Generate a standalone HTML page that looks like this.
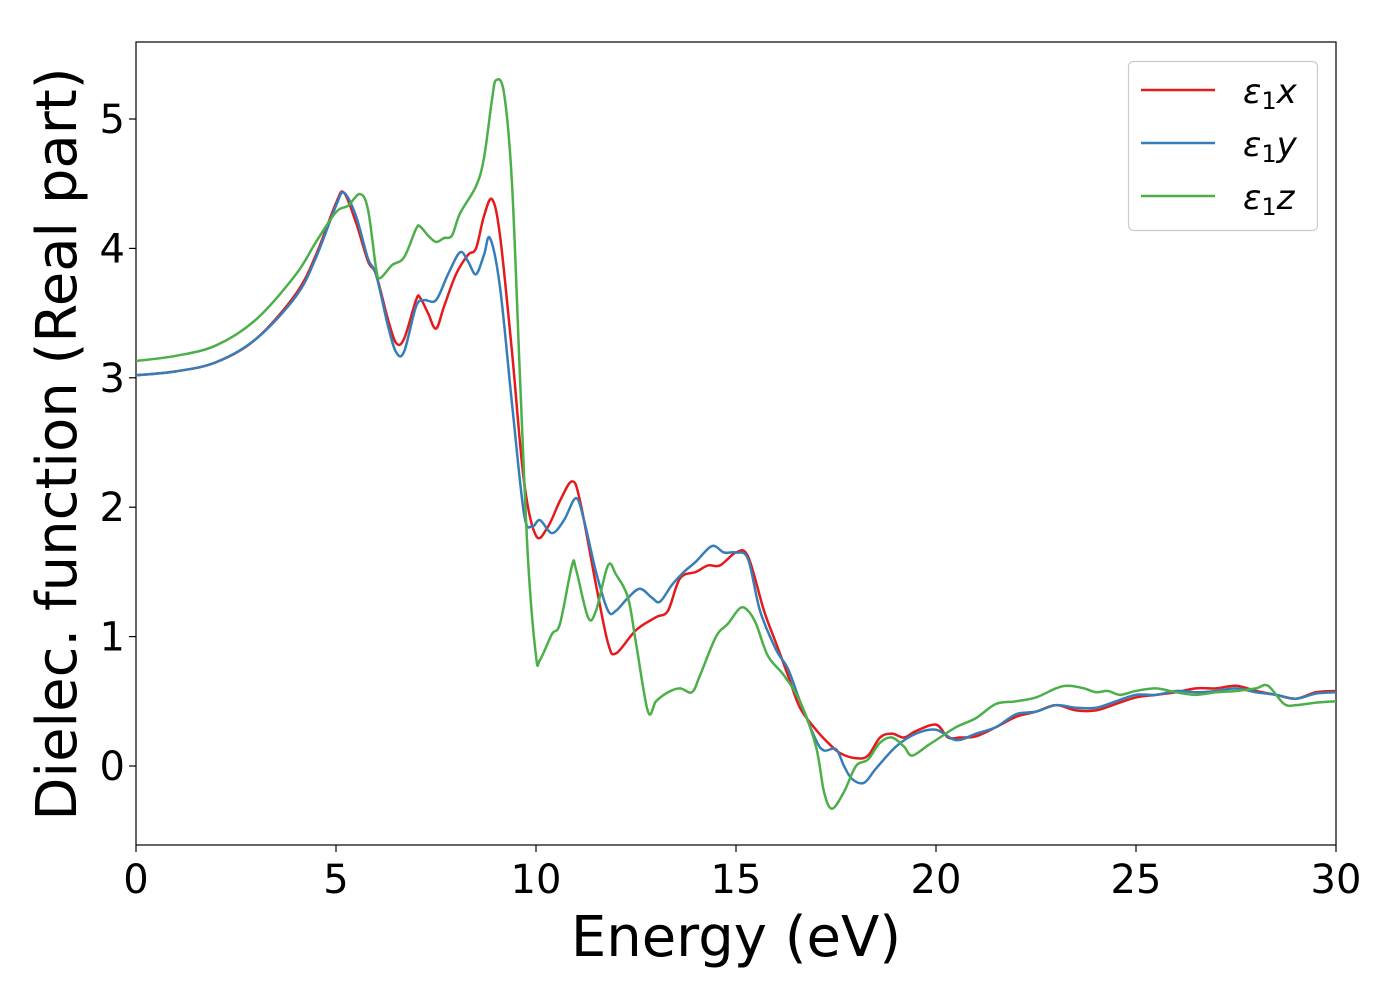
<!DOCTYPE html>
<html><head><meta charset="utf-8"><style>
html,body{margin:0;padding:0;background:#fff;}
svg{display:block;font-family:"DejaVu Sans","Liberation Sans",sans-serif;}
</style></head><body>
<svg id="chart" width="1400" height="1000">
<rect x="136" y="42" width="1200" height="803" fill="#fff" stroke="#000" stroke-width="1.2"/>
<g id="ticks"></g>
<g id="series"></g>
<text x="736" y="956" text-anchor="middle" font-size="56">Energy (eV)</text>
<text transform="translate(76,444) rotate(-90)" text-anchor="middle" font-size="56">Dielec. function (Real part)</text>
<g>
<rect x="1128.5" y="61.5" width="189" height="169" rx="5" fill="#fff" stroke="#ccc" stroke-width="1.2"/>
<line x1="1141" y1="90" x2="1215" y2="90" stroke="#e41a1c" stroke-width="2.5"/>
<line x1="1141" y1="143" x2="1215" y2="143" stroke="#377eb8" stroke-width="2.5"/>
<line x1="1141" y1="196" x2="1215" y2="196" stroke="#4daf4a" stroke-width="2.5"/>
<text x="1243" y="103" font-size="34" font-style="italic">ε<tspan font-style="normal" font-size="24" dy="6">1</tspan><tspan dy="-6">x</tspan></text>
<text x="1243" y="156" font-size="34" font-style="italic">ε<tspan font-style="normal" font-size="24" dy="6">1</tspan><tspan dy="-6">y</tspan></text>
<text x="1243" y="209" font-size="34" font-style="italic">ε<tspan font-style="normal" font-size="24" dy="6">1</tspan><tspan dy="-6">z</tspan></text>
</g>
</svg>
<script>
const xTicks=[0,5,10,15,20,25,30];
const yTicks=[0,1,2,3,4,5];
const redX=[0,1,2,3,4,4.5,5,5.2,5.5,5.8,6,6.3,6.5,6.7,7,7.1,7.3,7.5,7.7,8,8.3,8.5,8.7,8.9,9.1,9.4,9.7,10,10.3,10.6,10.9,11.1,11.5,11.8,12,12.5,13,13.3,13.6,14,14.3,14.6,15,15.3,15.7,16,16.3,16.6,17,17.3,17.6,18,18.3,18.6,18.9,19.2,19.5,20,20.3,20.6,21,21.5,22,22.5,23,23.5,24,24.5,25,25.5,26,26.5,27,27.5,28,28.5,29,29.5,30];
const redY=[3.02,3.05,3.12,3.3,3.65,3.95,4.35,4.43,4.2,3.9,3.8,3.45,3.27,3.3,3.6,3.62,3.5,3.38,3.55,3.8,3.95,4.0,4.25,4.38,4.1,3.2,2.2,1.78,1.85,2.05,2.2,2.05,1.4,0.95,0.87,1.05,1.15,1.2,1.45,1.5,1.55,1.55,1.65,1.62,1.2,0.95,0.7,0.45,0.28,0.18,0.1,0.06,0.08,0.22,0.25,0.22,0.27,0.32,0.22,0.22,0.23,0.3,0.38,0.42,0.47,0.43,0.43,0.48,0.53,0.55,0.57,0.6,0.6,0.62,0.58,0.55,0.52,0.57,0.58];
const blueX=[0,1,2,3,4,4.5,5,5.2,5.5,5.8,6,6.3,6.5,6.7,7,7.2,7.5,7.8,8.1,8.3,8.5,8.7,8.85,9.1,9.4,9.7,9.9,10.1,10.4,10.7,11,11.2,11.5,11.8,12,12.3,12.6,12.9,13.1,13.4,13.7,14,14.4,14.7,15,15.3,15.6,16,16.3,16.6,17,17.2,17.5,17.7,17.9,18.2,18.5,19,19.5,20,20.5,21,21.5,22,22.5,23,23.5,24,24.5,25,25.5,26,26.5,27,27.5,28,28.5,29,29.5,30];
const blueY=[3.02,3.05,3.12,3.3,3.63,3.93,4.33,4.43,4.25,3.92,3.8,3.4,3.2,3.2,3.55,3.6,3.6,3.8,3.97,3.9,3.8,3.95,4.08,3.7,2.8,1.95,1.85,1.9,1.8,1.9,2.07,1.9,1.5,1.2,1.2,1.3,1.37,1.3,1.27,1.4,1.5,1.58,1.7,1.65,1.65,1.6,1.2,0.9,0.75,0.5,0.2,0.12,0.13,0.0,-0.1,-0.13,-0.02,0.15,0.25,0.28,0.2,0.25,0.3,0.4,0.42,0.47,0.45,0.45,0.5,0.55,0.55,0.58,0.57,0.58,0.6,0.57,0.55,0.52,0.56,0.57];
const greenX=[0,1,2,3,4,4.5,5,5.3,5.6,5.8,6,6.1,6.4,6.7,7,7.1,7.3,7.5,7.7,7.9,8.1,8.5,8.7,8.9,9,9.2,9.4,9.6,9.8,10,10.1,10.4,10.6,10.9,11,11.3,11.5,11.8,12,12.3,12.5,12.8,13,13.3,13.6,13.9,14.1,14.5,14.8,15.1,15.3,15.5,15.8,16.2,16.6,17,17.2,17.4,17.7,18,18.3,18.6,18.9,19.2,19.4,19.8,20,20.5,21,21.5,22,22.5,23,23.3,23.7,24,24.3,24.6,25,25.5,26,26.5,27,27.5,28,28.3,28.7,29,29.5,30];
const greenY=[3.13,3.17,3.25,3.45,3.8,4.05,4.28,4.33,4.42,4.3,3.85,3.77,3.87,3.93,4.15,4.17,4.1,4.05,4.08,4.1,4.27,4.48,4.7,5.15,5.3,5.2,4.5,3.0,1.6,0.85,0.82,1.02,1.1,1.55,1.52,1.15,1.2,1.55,1.48,1.3,0.95,0.42,0.5,0.57,0.6,0.57,0.7,1.0,1.1,1.22,1.2,1.1,0.85,0.7,0.5,0.15,-0.2,-0.33,-0.2,0.0,0.05,0.18,0.22,0.15,0.08,0.16,0.2,0.3,0.37,0.48,0.5,0.53,0.6,0.62,0.6,0.57,0.58,0.55,0.58,0.6,0.57,0.55,0.57,0.58,0.6,0.62,0.48,0.47,0.49,0.5];
const NS="http://www.w3.org/2000/svg";
const xS=v=>136+v*40;
const yS=v=>766-v*129.4;
const tg=document.getElementById('ticks');
function mk(t,a,p){const e=document.createElementNS(NS,t);for(const k in a)e.setAttribute(k,a[k]);p.appendChild(e);return e;}
xTicks.forEach(t=>{
 const l=mk('line',{x1:xS(t),x2:xS(t),y1:845,y2:852,stroke:'#000','stroke-width':1.2},tg);
 
 
 const s=mk('text',{x:xS(t),y:893,'text-anchor':'middle','font-size':40},tg);s.textContent=t;
 
 
});
yTicks.forEach(t=>{
 const l=mk('line',{x1:129,x2:136,y1:yS(t),y2:yS(t),stroke:'#000','stroke-width':1.2},tg);
 
 
 const s=mk('text',{x:125,y:yS(t)+14,'text-anchor':'end','font-size':40},tg);s.textContent=t;
 
 
});
function path(xs,ys){
 const p=xs.map((x,i)=>[xS(x),yS(ys[i])]);
 let d='M'+p[0][0]+','+p[0][1];
 for(let i=0;i<p.length-1;i++){
  const p0=p[Math.max(0,i-1)],p1=p[i],p2=p[i+1],p3=p[Math.min(p.length-1,i+2)];
  const c1=[p1[0]+(p2[0]-p0[0])/6,p1[1]+(p2[1]-p0[1])/6];
  const c2=[p2[0]-(p3[0]-p1[0])/6,p2[1]-(p3[1]-p1[1])/6];
  d+=` C${c1[0]},${c1[1]} ${c2[0]},${c2[1]} ${p2[0]},${p2[1]}`;
 }
 return d;
}
const sg=document.getElementById('series');
[[redX,redY,'#e41a1c','series-eps1x'],[blueX,blueY,'#377eb8','series-eps1y'],[greenX,greenY,'#4daf4a','series-eps1z']].forEach(s=>{
 const e=mk('path',{d:path(s[0],s[1]),fill:'none',stroke:s[2],'stroke-width':2.5},sg);
 
 
});
</script>
</body></html>
